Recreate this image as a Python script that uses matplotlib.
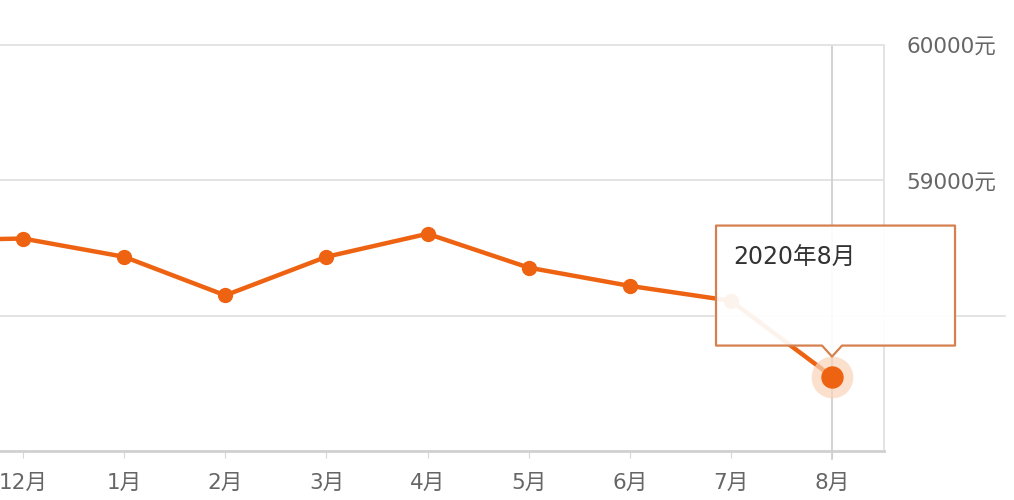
import numpy as np
import matplotlib
matplotlib.use('Agg')
import matplotlib.pyplot as plt
from matplotlib.patches import Polygon

plt.rcParams['font.family'] = ['DejaVu Sans', 'Noto Sans CJK SC']

# data
months = ['11月', '12月', '1月', '2月', '3月', '4月', '5月', '6月', '7月', '8月']
prices = [58555, 58570, 58435, 58150, 58435, 58605, 58355, 58220, 58110, 57550]
ytick_vals = [58000, 59000, 60000]
ytick_labels = ['', '59000元', '60000元']
tip_text = '2020年8月'

line_col = '#EE6312'
grid_col = '#E4E4E4'

fig = plt.figure(figsize=(10.14, 5.0), dpi=100)
ax = fig.add_axes([0, 49 / 500, 884 / 1014, 406 / 500])

x = np.arange(len(months))
ax.plot(x, prices, color=line_col, lw=3.2, marker='o', ms=10, zorder=4,
        solid_capstyle='round')
# hovered point
ax.scatter([x[-1]], [prices[-1]], s=900, color='#F9D3B8', alpha=0.7, zorder=5, lw=0)
ax.scatter([x[-1]], [prices[-1]], s=260, color=line_col, zorder=6, lw=0)

ax.set_xticks(x)
ax.set_xticklabels(months, fontsize=15.5, color='#666666')
ax.yaxis.tick_right()
ax.set_yticks(ytick_vals)
ax.set_yticklabels(ytick_labels, fontsize=15.5, color='#666666')
ax.tick_params(axis='y', length=0, pad=16)
ax.tick_params(axis='x', length=5, color='#D6D6D6', pad=11)
for lab in ax.get_yticklabels():
    lab.set_horizontalalignment('left')

ax.set_xlim(0.7725, 9.514)
ax.set_ylim(57000, 60000)

ax.yaxis.grid(True, color=grid_col, lw=1.4)
ax.set_axisbelow(True)
ax.spines['left'].set_visible(False)
for s in ['top', 'right']:
    ax.spines[s].set_color(grid_col)
    ax.spines[s].set_linewidth(1.4)
ax.spines['bottom'].set_color('#D0D0D0')
ax.spines['bottom'].set_linewidth(2)

# crosshair
ax.axvline(x[-1], ymin=-0.02, ymax=1, color='#CCCCCC', lw=1.2, clip_on=False, zorder=2)
ax.axhline(58000, xmin=0, xmax=1005 / 884, color=grid_col, lw=1.4, clip_on=False, zorder=1)

# tooltip, placed in pixels relative to the hovered point
fig.canvas.draw()
px, py = ax.transData.transform((x[-1], prices[-1]))
L, R, B, T, tip, hw = -116, 123, 31, 151, 20, 10
verts = [(px + L, py + B), (px - hw, py + B), (px, py + tip), (px + hw, py + B),
         (px + R, py + B), (px + R, py + T), (px + L, py + T)]
poly = Polygon(verts, closed=True, transform=None, facecolor='white', alpha=0.93,
               edgecolor='none', zorder=7)
fig.add_artist(poly)
edge = Polygon(verts, closed=True, transform=None, facecolor='none',
               edgecolor='#D5804E', lw=1.6, joinstyle='round', zorder=8)
fig.add_artist(edge)
fig.text((px - 99) / 1014, (py + 119) / 500, tip_text, fontsize=17, color='#333333',
         ha='left', va='center', zorder=9)

fig.savefig('out.png', dpi=100, facecolor='white')
